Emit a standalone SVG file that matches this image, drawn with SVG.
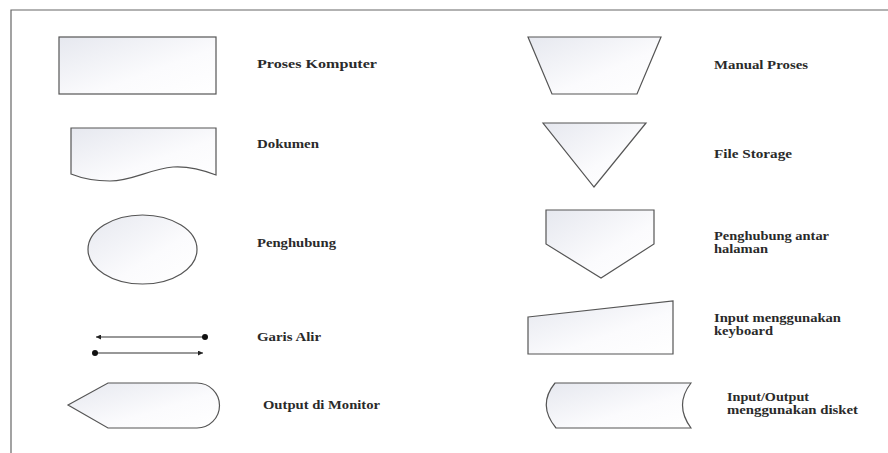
<svg xmlns="http://www.w3.org/2000/svg" width="888" height="453" viewBox="0 0 888 453">
<defs>
<linearGradient id="g" x1="0" y1="0" x2="1" y2="1">
<stop offset="0" stop-color="#e6e8ef"/>
<stop offset="0.6" stop-color="#fbfbfd"/>
<stop offset="1" stop-color="#ffffff"/>
</linearGradient>
<marker id="ah" viewBox="0 0 10 10" refX="10" refY="5" markerWidth="6" markerHeight="5" orient="auto-start-reverse" markerUnits="userSpaceOnUse">
<path d="M0,0 L10,5 L0,10 Z" fill="#222"/>
</marker>
<marker id="dot" viewBox="0 0 10 10" refX="5" refY="5" markerWidth="6" markerHeight="6" markerUnits="userSpaceOnUse">
<circle cx="5" cy="5" r="5" fill="#111"/>
</marker>
</defs>
<style>
.s{fill:url(#g);stroke:#555;stroke-width:1.2}
.t{font-family:"Liberation Serif","Times New Roman",serif;font-size:12px;font-weight:bold;fill:#2a2a2a}
.frame{stroke:#666;stroke-width:1.2;fill:none}
.ln{stroke:#333;stroke-width:1.2;fill:none}
</style>
<rect width="888" height="453" fill="#fff"/>
<path class="frame" d="M11,453 V10 H888"/>

<g id="proses-komputer">
<rect class="s" x="59" y="37" width="157" height="57"/>
<text class="t" x="257" y="68" textLength="120" lengthAdjust="spacingAndGlyphs">Proses Komputer</text>
</g>
<g id="dokumen">
<path class="s" d="M71,128 H216 V175 C203,170 188,166 173,167 C150,169 132,181 110,181 C94,181 81,178 71,174 Z"/>
<text class="t" x="257" y="148" textLength="62" lengthAdjust="spacingAndGlyphs">Dokumen</text>
</g>
<g id="penghubung">
<ellipse class="s" cx="142.5" cy="249.5" rx="54.5" ry="34.5"/>
<text class="t" x="257" y="247" textLength="79" lengthAdjust="spacingAndGlyphs">Penghubung</text>
</g>
<g id="garis-alir">
<text class="t" x="257" y="341" textLength="64" lengthAdjust="spacingAndGlyphs">Garis Alir</text>
</g>
<g id="output-monitor">
<path class="s" d="M68,405 L108,383 H197 A22.5,22.5 0 0 1 197,428 H108 Z"/>
<text class="t" x="263" y="409" textLength="117" lengthAdjust="spacingAndGlyphs">Output di Monitor</text>
</g>
<g id="manual-proses">
<path class="s" d="M528,37 H661 L637,94 H552 Z"/>
<text class="t" x="714" y="69" textLength="94" lengthAdjust="spacingAndGlyphs">Manual Proses</text>
</g>
<g id="file-storage">
<path class="s" d="M543,123 H646 L594,187 Z"/>
<text class="t" x="714" y="158" textLength="78" lengthAdjust="spacingAndGlyphs">File Storage</text>
</g>
<g id="penghubung-antar-halaman">
<path class="s" d="M546,210 H654 V244 L601,278 L546,244 Z"/>
<text class="t" x="714" y="240" textLength="115" lengthAdjust="spacingAndGlyphs">Penghubung antar</text>
<text class="t" x="714" y="253" textLength="54" lengthAdjust="spacingAndGlyphs">halaman</text>
</g>
<g id="input-keyboard">
<path class="s" d="M528,317 L673,301 V354 H528 Z"/>
<text class="t" x="714" y="322" textLength="127" lengthAdjust="spacingAndGlyphs">Input menggunakan</text>
<text class="t" x="714" y="335" textLength="59" lengthAdjust="spacingAndGlyphs">keyboard</text>
</g>
<g id="input-output-disket">
<path class="s" d="M555,383 H691 Q674,405 691,428 H556 Q537,405 555,383 Z"/>
<text class="t" x="727" y="401" textLength="82" lengthAdjust="spacingAndGlyphs">Input/Output</text>
<text class="t" x="727" y="414" textLength="131" lengthAdjust="spacingAndGlyphs">menggunakan disket</text>
</g>
<g id="connectors">
<line class="ln" x1="205" y1="337" x2="96" y2="337" marker-start="url(#dot)" marker-end="url(#ah)"/>
<line class="ln" x1="95" y1="353" x2="203" y2="353" marker-start="url(#dot)" marker-end="url(#ah)"/>
</g>
</svg>
